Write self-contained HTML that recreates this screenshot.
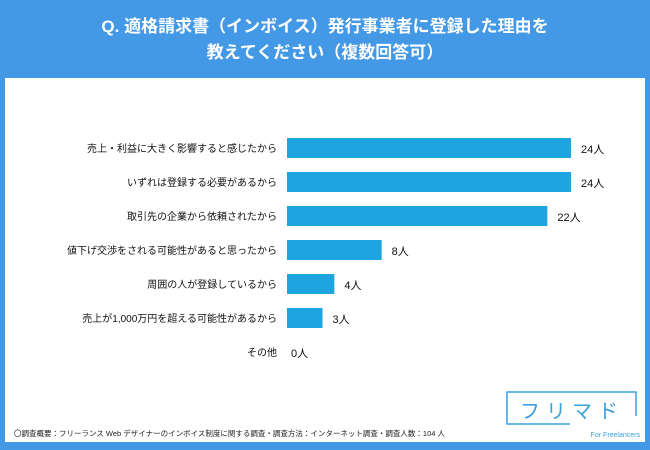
<!DOCTYPE html>
<html><head><meta charset="utf-8"><style>
body{margin:0;width:650px;height:450px;background:#4399e6;font-family:"Liberation Sans","Noto Sans CJK JP",sans-serif;position:relative;overflow:hidden}
#title{position:absolute;left:0;top:14px;width:650px;text-align:center;color:#fff;font-weight:bold;font-size:17px;line-height:26px}
#panel{position:absolute;left:5px;top:78px;width:640px;height:364px;background:#fff}
svg{position:absolute;left:0;top:0}
</style></head><body>
<div id="title">Q. 適格請求書（インボイス）発行事業者に登録した理由を<br>教えてください（複数回答可）</div>
<div id="panel"></div>
<svg id="chart" width="650" height="450"></svg>
<script>
const categories=["売上・利益に大きく影響すると感じたから","いずれは登録する必要があるから","取引先の企業から依頼されたから","値下げ交渉をされる可能性があると思ったから","周囲の人が登録しているから","売上が1,000万円を超える可能性があるから","その他"];
const values=[24,24,22,8,4,3,0];
const valueLabels=["24人","24人","22人","8人","4人","3人","0人"];
const svg=document.getElementById('chart');
const NS="http://www.w3.org/2000/svg";
const x0=287,scale=284/24;
function xPos(v){return x0+v*scale;}
function yPos(i){return 148+i*34;}
categories.forEach((c,i)=>{
  const y=yPos(i);
  const t=document.createElementNS(NS,'text');
  
  
  t.setAttribute('x',277);t.setAttribute('y',y+4);t.setAttribute('text-anchor','end');
  t.setAttribute('font-size','10');t.setAttribute('fill','#111');t.textContent=c;svg.appendChild(t);
  if(values[i]>0){
    const r=document.createElementNS(NS,'rect');
    
    
    r.setAttribute('x',x0);r.setAttribute('y',y-10);r.setAttribute('width',xPos(values[i])-x0);r.setAttribute('height',20);
    r.setAttribute('fill','#1ea5e0');svg.appendChild(r);
  }
  const v=document.createElementNS(NS,'text');
  
  
  v.setAttribute('x',xPos(values[i])+(values[i]>0?10:4));v.setAttribute('y',y+5);
  v.setAttribute('font-size','11');v.setAttribute('fill','#111');v.textContent=valueLabels[i];svg.appendChild(v);
});
</script>
<svg width="650" height="450">
<text x="14" y="436" font-size="7.5" fill="#222">〇調査概要：フリーランス Web デザイナーのインボイス制度に関する調査・調査方法：インターネット調査・調査人数：104 人</text>
<g>
<polyline points="570,424 507,424 507,392 636,392 636,416" fill="none" stroke="#3aa0e0" stroke-width="1.5"/>
<text x="572" y="418" text-anchor="middle" font-size="20" fill="#3aa0e0" letter-spacing="6">フリマド</text>
<text x="640" y="437" text-anchor="end" font-size="7" fill="#3aa0e0">For Freelancers</text>
</g>
</svg>
</body></html>
